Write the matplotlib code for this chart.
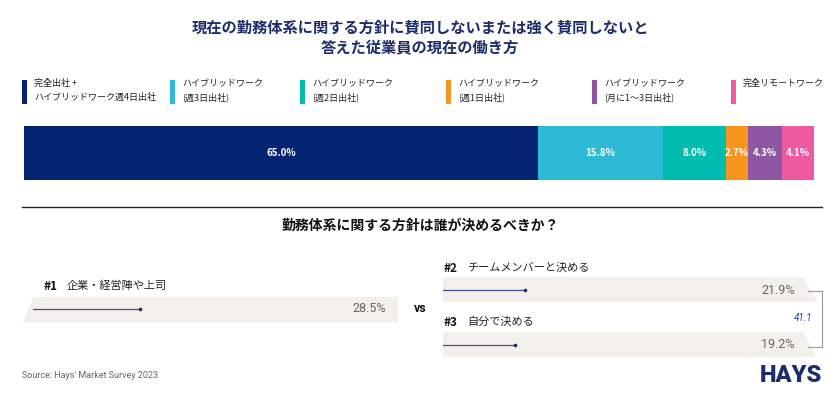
import matplotlib
matplotlib.use("Agg")
import matplotlib.pyplot as plt
from matplotlib.patches import Polygon, Rectangle
import numpy as np

plt.rcParams["font.family"] = ["Noto Sans CJK JP", "DejaVu Sans"]

# --- data ---------------------------------------------------------------
title_lines = ["現在の勤務体系に関する方針に賛同しないまたは強く賛同しないと",
               "答えた従業員の現在の働き方"]
work_labels = ["完全出社 +\nハイブリッドワーク週4日出社",
               "ハイブリッドワーク\n(週3日出社)",
               "ハイブリッドワーク\n(週2日出社)",
               "ハイブリッドワーク\n(週1日出社)",
               "ハイブリッドワーク\n(月に1～3日出社)",
               "完全リモートワーク"]
work_values = [65.0, 15.8, 8.0, 2.7, 4.3, 4.1]
work_colors = ["#032470", "#2dbad6", "#00bdb0", "#f7941d", "#8f57a3", "#ee5aa2"]

subtitle = "勤務体系に関する方針は誰が決めるべきか？"
who_ranks = ["#1", "#2", "#3"]
who_labels = ["企業・経営陣や上司", "チームメンバーと決める", "自分で決める"]
who_values = [28.5, 21.9, 19.2]
team_total = "41.1"

source = "Source: Hays' Market Survey 2023"

W, H = 840, 400
NAVY = "#1c2d6b"
BAND = "#f3efea"


def fx(x):
    return x / W


def fy(y):
    return 1 - y / H


fig = plt.figure(figsize=(8.4, 4.0), dpi=100)
fig.patch.set_facecolor("white")

# background axes in pixel units for text and decorations
bg = fig.add_axes([0, 0, 1, 1])
bg.set_xlim(0, W)
bg.set_ylim(H, 0)
bg.axis("off")

# title
bg.text(420, 28, title_lines[0], ha="center", va="center", fontsize=11,
        fontweight="bold", color=NAVY)
bg.text(420, 48, title_lines[1], ha="center", va="center", fontsize=11,
        fontweight="bold", color=NAVY)

# legend
leg_x = [22, 170, 300, 446, 592, 731]
for x, lab, col in zip(leg_x, work_labels, work_colors):
    bg.add_patch(Rectangle((x, 80), 5, 24, color=col, lw=0))
    bg.text(x + 12, 79, lab, ha="left", va="top", fontsize=6.5,
            color="#222222", linespacing=1.6)

# stacked bar
axb = fig.add_axes([fx(24), fy(180), fx(790), 54 / H])
left = np.concatenate([[0], np.cumsum(work_values)[:-1]])
axb.barh(0, work_values, left=left, height=1, color=work_colors, lw=0)
for l, v in zip(left, work_values):
    axb.text(l + v / 2, 0, f"{v:.1f}%", ha="center", va="center",
             fontsize=7, fontweight="bold", color="white")
axb.set_xlim(0, sum(work_values))
axb.set_ylim(-0.5, 0.5)
axb.axis("off")

# divider
bg.plot([22, 822], [207, 207], color="#222222", lw=1)

bg.text(420, 226, subtitle, ha="center", va="center", fontsize=10,
        fontweight="bold", color="#111111")

# bands
bg.add_patch(Polygon([(23, 322), (33, 297), (398, 297), (398, 322)],
                     closed=True, color=BAND, lw=0))
for top in (277, 332):
    bg.add_patch(Polygon([(443, top), (803, top), (817, top + 25),
                          (443, top + 25)], closed=True, color=BAND, lw=0))

# rows: (label y, line y, line start x, label x, value right x)
rows = [(286, 309, 33, 43, 386), (268, 290, 443, 443, 795),
        (322, 345, 443, 443, 795)]
PX_PER_PCT = 3.75
for (ly, my, x0, tx, xr), rk, lab, v in zip(rows, who_ranks, who_labels,
                                           who_values):
    bg.text(tx, ly, rk, ha="left", va="center", fontsize=8.5,
            fontweight="bold", color="#111111")
    bg.text(tx + 24, ly, lab, ha="left", va="center", fontsize=8,
            color="#222222")
    bg.text(xr, my, f"{v}%", ha="right", va="center", fontsize=9,
            color="#666666", family=["Roboto", "DejaVu Sans"])
    span = 150
    axl = fig.add_axes([fx(x0), fy(my + 5), fx(span), 10 / H])
    axl.set_xlim(0, span / PX_PER_PCT)
    axl.set_ylim(-1, 1)
    axl.plot([0, v], [0, 0], color="#3d5190", lw=0.9)
    axl.plot([v], [0], "o", color=NAVY, ms=1.6)
    axl.axis("off")

bg.text(420, 309, "vs", ha="center", va="center", fontsize=9,
        fontweight="bold", color="#111111", family=["Roboto", "DejaVu Sans"])

# bracket
bg.plot([808, 822, 822, 808], [291, 291, 347, 347], color="#999999", lw=0.8)
bg.text(803, 318, team_total, ha="center", va="center", fontsize=7,
        style="italic", color="#2c4a8c", family=["Roboto", "DejaVu Sans"])

bg.text(22, 376, source, ha="left", va="center", fontsize=6.5,
        color="#666666", family=["Roboto", "DejaVu Sans"])
bg.text(822, 376, "HAYS", ha="right", va="center", fontsize=17,
        fontweight="heavy", color=NAVY, family=["Roboto", "DejaVu Sans"])

fig.savefig("out.png", dpi=100, facecolor="white")
